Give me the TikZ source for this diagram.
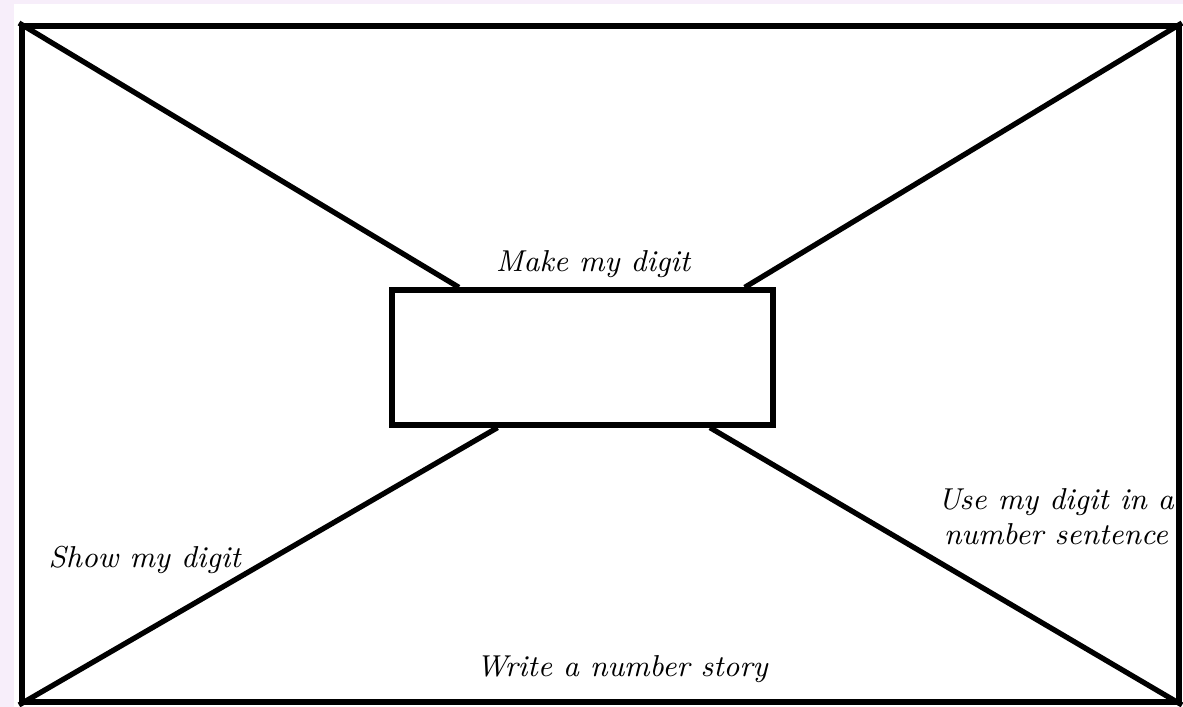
\documentclass[tikz,border=0pt]{standalone}
\usepackage{tikz}
\usetikzlibrary{calc}
\usepackage{xcolor}
\definecolor{lavender}{HTML}{F7EEFA}
\tikzset{
  frame/.style={rectangle, draw=black, line width=1.7pt, inner sep=0pt},
  spoke/.style={draw=black, line width=1.5pt},
  hand/.style={font=\fontsize{8.6}{10}\selectfont\itshape, inner sep=0pt, align=center},
}

\begin{document}
\begin{tikzpicture}
  % page
  \fill[lavender] (0,0) rectangle (11.83,7.07);
  \fill[white] (0.14,0) rectangle (11.83,7.03);
  \useasboundingbox (0,0) rectangle (11.83,7.07);

  \node[frame, minimum width=11.57cm, minimum height=6.76cm] (outer) at (6.005,3.43) {};
  \node[frame, line width=1.5pt, minimum width=3.81cm, minimum height=1.35cm] (digit) at (5.825,3.495) {};

  % spokes from the corners
  \draw[spoke] (outer.north west) -- ($(digit.north west)!0.18!(digit.north east)$);
  \draw[spoke] (outer.north east) -- ($(digit.north west)!0.92!(digit.north east)$);
  \draw[spoke] (outer.south west) -- ($(digit.south west)!0.28!(digit.south east)$);
  \draw[spoke] (outer.south east) -- ($(digit.south west)!0.83!(digit.south east)$);

  \node[hand, anchor=base] (make) at (5.93,4.35) {Make my digit};
  \node[hand, anchor=base west] (show) at (0.48,1.39) {Show my digit};
  \node[hand, anchor=base] (story) at (6.22,0.30) {Write a number story};
  \node[hand] (sentence) at (10.56,1.90) {Use my digit in a\\number sentence};
\end{tikzpicture}
\end{document}
